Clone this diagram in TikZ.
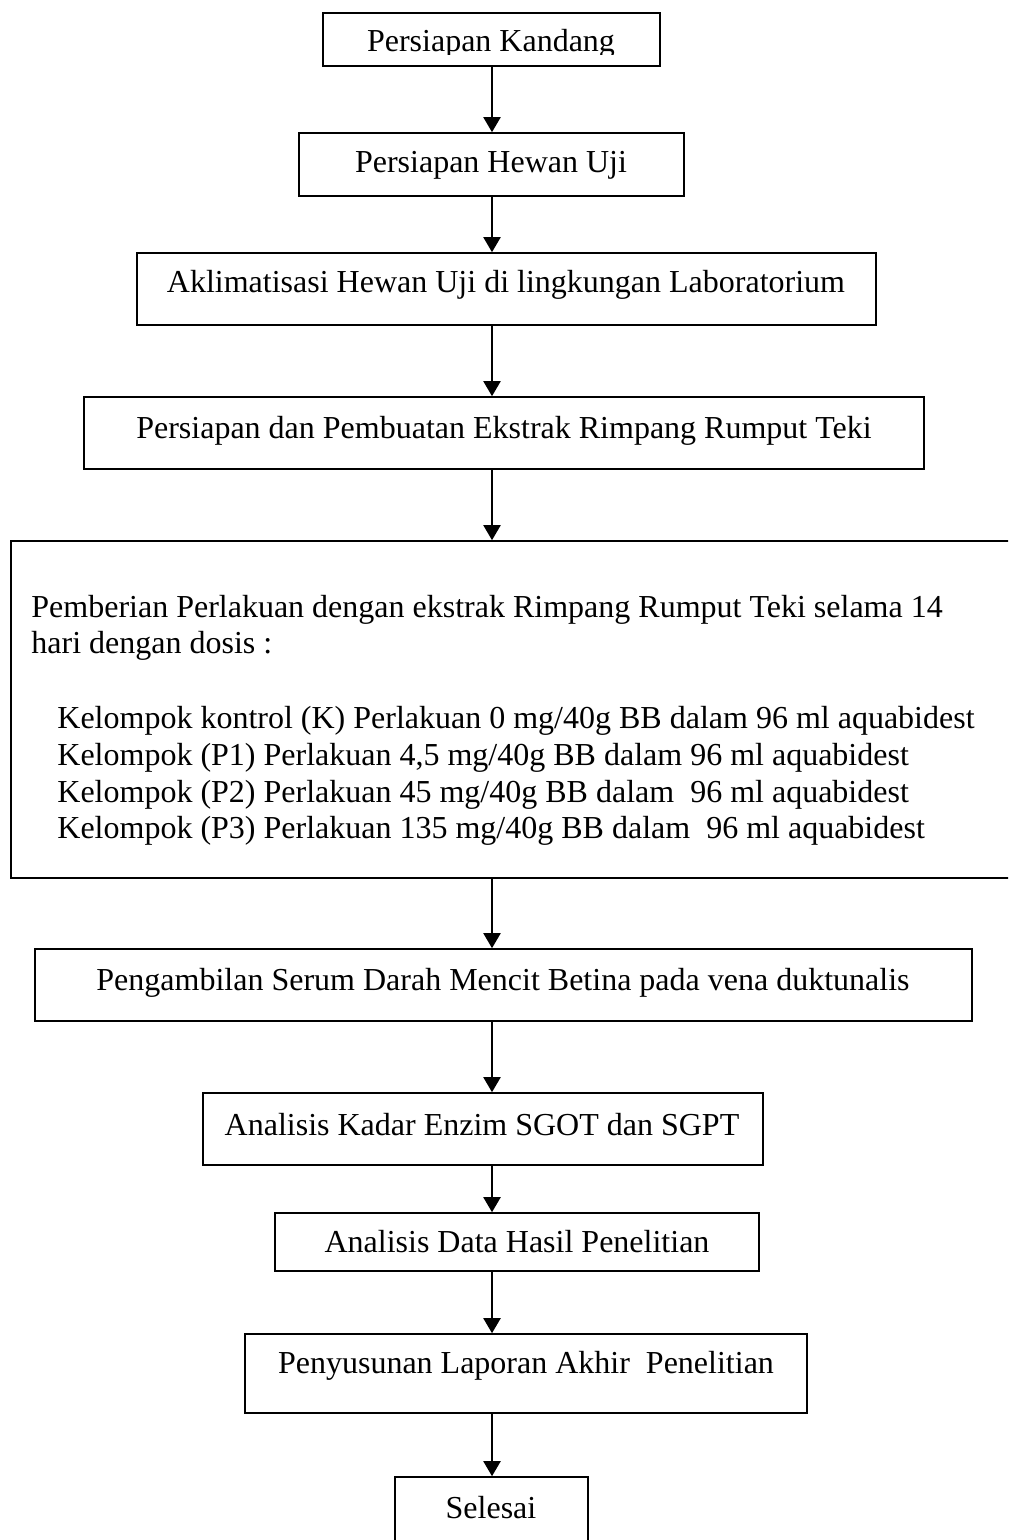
\documentclass[tikz,border=0pt]{standalone}
\usepackage{fontspec}
\setmainfont{Liberation Serif}
\usetikzlibrary{fit,arrows.meta}
\begin{document}
\begin{tikzpicture}[x=0.5pt,y=-0.5pt,
  box/.style={draw=black, line width=0.8pt, inner sep=0pt, rectangle},
  txt/.style={inner sep=0pt, font=\fontsize{16}{18}\selectfont, anchor=base},
  ltxt/.style={txt, anchor=base west},
  arr/.style={line width=1pt, -{Triangle[width=8.5pt,length=7.5pt]}}]
\clip (0,0) rectangle (1008,1540);
\fill[white] (0,0) rectangle (1008,1540);
% boxes and texts
\node[box, fit={(323,13)(660,66)}] (B1) {};
\begin{scope}
\clip (323,13) rectangle (660,55);
\node[txt] (T1) at (491,52) {Persiapan Kandang};
\end{scope}
\node[box, fit={(299,133)(684,196)}] (B2) {};
\node[txt] (T2) at (491,173) {Persiapan Hewan Uji};
\node[box, fit={(137,253)(876,325)}] (B3) {};
\node[txt] (T3) at (506,293) {Aklimatisasi Hewan Uji di lingkungan Laboratorium};
\node[box, fit={(84,397)(924,469)}] (B4) {};
\node[txt] (T4) at (504,438) {Persiapan dan Pembuatan Ekstrak Rimpang Rumput Teki};
\node[box, fit={(11,541)(1020,878)}] (B5) {};
\node[ltxt] (T5a) at (31,617) {Pemberian Perlakuan dengan ekstrak Rimpang Rumput Teki selama 14};
\node[ltxt] (T5b) at (31,653) {hari dengan dosis :};
\node[ltxt] (T5c) at (57,728) {Kelompok kontrol (K) Perlakuan 0 mg/40g BB dalam 96 ml aquabidest};
\node[ltxt] (T5d) at (57,765) {Kelompok (P1) Perlakuan 4,5 mg/40g BB dalam 96 ml aquabidest};
\node[ltxt] (T5e) at (57,802) {Kelompok (P2) Perlakuan 45 mg/40g BB dalam~~96 ml aquabidest};
\node[ltxt] (T5f) at (57,838) {Kelompok (P3) Perlakuan 135 mg/40g BB dalam~~96 ml aquabidest};
\node[box, fit={(35,949)(972,1021)}] (B6) {};
\node[txt] (T6) at (503,990) {Pengambilan Serum Darah Mencit Betina pada vena duktunalis};
\node[box, fit={(203,1093)(763,1165)}] (B7) {};
\node[txt] (T7) at (482,1135) {Analisis Kadar Enzim SGOT dan SGPT};
\node[box, fit={(275,1213)(759,1271)}] (B8) {};
\node[txt] (T8) at (517,1252) {Analisis Data Hasil Penelitian};
\node[box, fit={(245,1334)(807,1413)}] (B9) {};
\node[txt] (T9) at (526,1373) {Penyusunan Laporan Akhir~~Penelitian};
\node[box, fit={(395,1477)(588,1560)}] (B10) {};
\node[txt] (T10) at (491,1518) {Selesai};
% connectors
\coordinate (ax) at (492,0);
\foreach \a/\b in {B1/B2,B2/B3,B3/B4,B4/B5,B5/B6,B6/B7,B7/B8,B8/B9,B9/B10}
  \draw[arr] (\a.south -| ax) -- (\b.north -| ax);
\end{tikzpicture}
\end{document}
